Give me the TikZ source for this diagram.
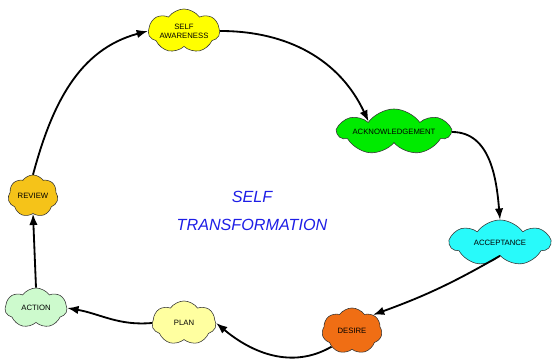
\documentclass[tikz,border=0pt]{standalone}
\usepackage{fontspec}
\usepackage{xcolor}
\usetikzlibrary{shapes.symbols,arrows.meta}
\setmainfont{Liberation Sans}
\newfontfamily\titlefont{Liberation Sans}

\definecolor{awareyellow}{RGB}{255,255,0}
\definecolor{ackgreen}{RGB}{0,235,0}
\definecolor{acccyan}{RGB}{40,250,250}
\definecolor{desireorange}{RGB}{240,110,20}
\definecolor{planyellow}{RGB}{255,255,160}
\definecolor{actiongreen}{RGB}{205,250,205}
\definecolor{reviewgold}{RGB}{245,195,25}
\definecolor{titleblue}{RGB}{30,30,230}

\begin{document}
\begin{tikzpicture}[>={Latex[length=8pt,width=6pt]}]
\tikzstyle{stage} = [cloud, cloud puffs=7, cloud puff arc=110, cloud ignores aspect, draw=black!80, align=center, inner sep=1pt, font=\fontsize{5.5}{6.5}\selectfont]
\tikzstyle{awareness} = [stage, fill=awareyellow, minimum width=1.65cm, minimum height=1.1cm]
\tikzstyle{acknowledge} = [stage, fill=ackgreen, minimum width=2.5cm, minimum height=1.15cm]
\tikzstyle{accept} = [stage, fill=acccyan, minimum width=2.5cm, minimum height=1.15cm]
\tikzstyle{desire} = [stage, fill=desireorange, minimum width=1.5cm, minimum height=1.15cm]
\tikzstyle{plan} = [stage, fill=planyellow, minimum width=1.6cm, minimum height=1.1cm]
\tikzstyle{action} = [stage, fill=actiongreen, minimum width=1.55cm, minimum height=1.0cm]
\tikzstyle{review} = [stage, fill=reviewgold, minimum width=1.25cm, minimum height=1.05cm]
\tikzstyle{link} = [->, line width=1.3pt]

\useasboundingbox (0,0) rectangle (13.825,9.075);

\node(selfAwareness) [awareness] at (4.6,8.3) {SELF\\AWARENESS};
\node(acknowledgement) [acknowledge] at (9.85,5.775) {ACKNOWLEDGEMENT};
\node(acceptance) [accept] at (12.5,3.0) {ACCEPTANCE};
\node(desire) [desire] at (8.8,0.8) {DESIRE};
\node(plan) [plan] at (4.6,1.0) {PLAN};
\node(action) [action] at (0.9,1.375) {ACTION};
\node(review) [review] at (0.825,4.175) {REVIEW};
\node(title) [align=center, text=titleblue, font=\titlefont\itshape\fontsize{11.5}{20}\selectfont] at (6.3,3.8) {SELF\\TRANSFORMATION};

\draw[link] (review.north) to[out=75, in=195] (selfAwareness.west);
\draw[link] (selfAwareness.east) to[out=0, in=115] (acknowledgement.north west);
\draw[link] (acknowledgement.east) to[out=0, in=95] (acceptance.north);
\draw[link] (acceptance.south) to[bend left=5] (desire.north east);
\draw[link] (desire.south west) to[out=210, in=-40] (plan.east);
\draw[link] (plan.west) to[out=185, in=-10] (action.east);
\draw[link] (action.north) -- (review.south);
\end{tikzpicture}
\end{document}
